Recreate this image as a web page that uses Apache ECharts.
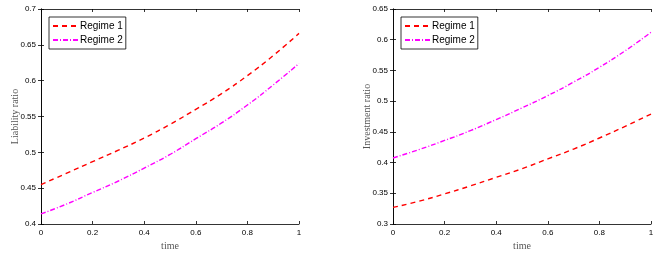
<!DOCTYPE html>
<html><head><meta charset="utf-8">
<script src="https://cdn.jsdelivr.net/npm/echarts@6/dist/echarts.min.js"></script>
<style>html,body{margin:0;padding:0;background:#fff}#c{width:663px;height:256px}</style>
</head><body><div id="c"></div>
<script>
const times = [0, 0.1, 0.2, 0.3, 0.4, 0.5, 0.6, 0.7, 0.8, 0.9, 1];
const liabilityRegime1 = [0.455, 0.471, 0.487, 0.503, 0.520, 0.539, 0.560, 0.582, 0.607, 0.635, 0.666];
const liabilityRegime2 = [0.414, 0.428, 0.444, 0.460, 0.478, 0.497, 0.519, 0.541, 0.566, 0.594, 0.624];
const investmentRegime1 = [0.327, 0.337, 0.349, 0.362, 0.376, 0.390, 0.406, 0.422, 0.440, 0.459, 0.479];
const investmentRegime2 = [0.4075, 0.421, 0.436, 0.452, 0.470, 0.489, 0.509, 0.531, 0.555, 0.582, 0.612];
const seriesNames = ['Regime 1', 'Regime 2'];
const yTitles = ['Liability ratio', 'Investment ratio'];
const xTitle = 'time';

const pair = (xs, ys) => xs.map((x, i) => [x, ys[i]]);
const chart = echarts.init(document.getElementById('c'), null, {renderer: 'canvas'});
const axisLine = {show: true, lineStyle: {color: '#000', width: 0.8}};
const tickFont = {color: '#000', fontSize: 8, fontFamily: 'Liberation Sans, Arial, sans-serif'};
const titleFont = {color: '#555', fontSize: 10, fontFamily: 'Liberation Serif, Times New Roman, serif'};
const grids = [
  {left: 41, right: 364, top: 9, bottom: 30},
  {left: 393, right: 12, top: 9, bottom: 30}
];
const yRanges = [[0.4, 0.7], [0.3, 0.65]];
const xAxes = [], yAxes = [];
const tick = {show: true, inside: true, length: 3, lineStyle: {color: '#000', width: 0.8}};
grids.forEach((g, i) => {
  xAxes.push({type: 'value', gridIndex: i, min: 0, max: 1, interval: 0.2, position: 'bottom',
    name: xTitle, nameLocation: 'middle', nameGap: 17, nameMoveOverlap: false, nameTextStyle: titleFont,
    axisLine, axisTick: tick, axisLabel: Object.assign({margin: 5}, tickFont), splitLine: {show: false}});
  xAxes.push({type: 'value', gridIndex: i, min: 0, max: 1, interval: 0.2, position: 'top',
    axisLine, axisTick: tick, axisLabel: {show: false}, splitLine: {show: false}});
  yAxes.push({type: 'value', gridIndex: i, min: yRanges[i][0], max: yRanges[i][1], interval: 0.05, position: 'left',
    name: yTitles[i], nameLocation: 'middle', nameGap: 21, nameMoveOverlap: false, nameRotate: 90, nameTextStyle: titleFont,
    axisLine, axisTick: tick, axisLabel: Object.assign({margin: 5}, tickFont), splitLine: {show: false}});
  yAxes.push({type: 'value', gridIndex: i, min: yRanges[i][0], max: yRanges[i][1], interval: 0.05, position: 'right',
    axisLine, axisTick: tick, axisLabel: {show: false}, splitLine: {show: false}});
});
const styles = [
  {color: '#ff0000', type: [5, 4]},
  {color: '#ff00ff', type: [5, 2, 1, 2]}
];
const dataSets = [[liabilityRegime1, liabilityRegime2], [investmentRegime1, investmentRegime2]];
const series = [];
dataSets.forEach((pairSet, gi) => {
  pairSet.forEach((ys, si) => {
    series.push({name: seriesNames[si], type: 'line', xAxisIndex: gi * 2, yAxisIndex: gi * 2,
      data: pair(times, ys), smooth: true, symbol: 'none', animation: false,
      lineStyle: {color: styles[si].color, width: 1.4, type: styles[si].type},
      itemStyle: {color: styles[si].color}});
  });
});
const legendBase = {orient: 'vertical', itemWidth: 26, itemHeight: 8, itemGap: 4,
  borderColor: '#000', borderWidth: 0.8, padding: [4, 3, 4, 3],
  itemStyle: {opacity: 0},
  textStyle: {color: '#000', fontSize: 10, fontFamily: 'Liberation Sans, Arial, sans-serif', padding: [0, 0, 0, -4]},
  data: seriesNames};
chart.setOption({
  animation: false,
  grid: grids,
  xAxis: xAxes,
  yAxis: yAxes,
  legend: [
    Object.assign({}, legendBase, {left: 49, top: 17}),
    Object.assign({}, legendBase, {left: 401, top: 17})
  ],
  series
});
</script></body></html>
